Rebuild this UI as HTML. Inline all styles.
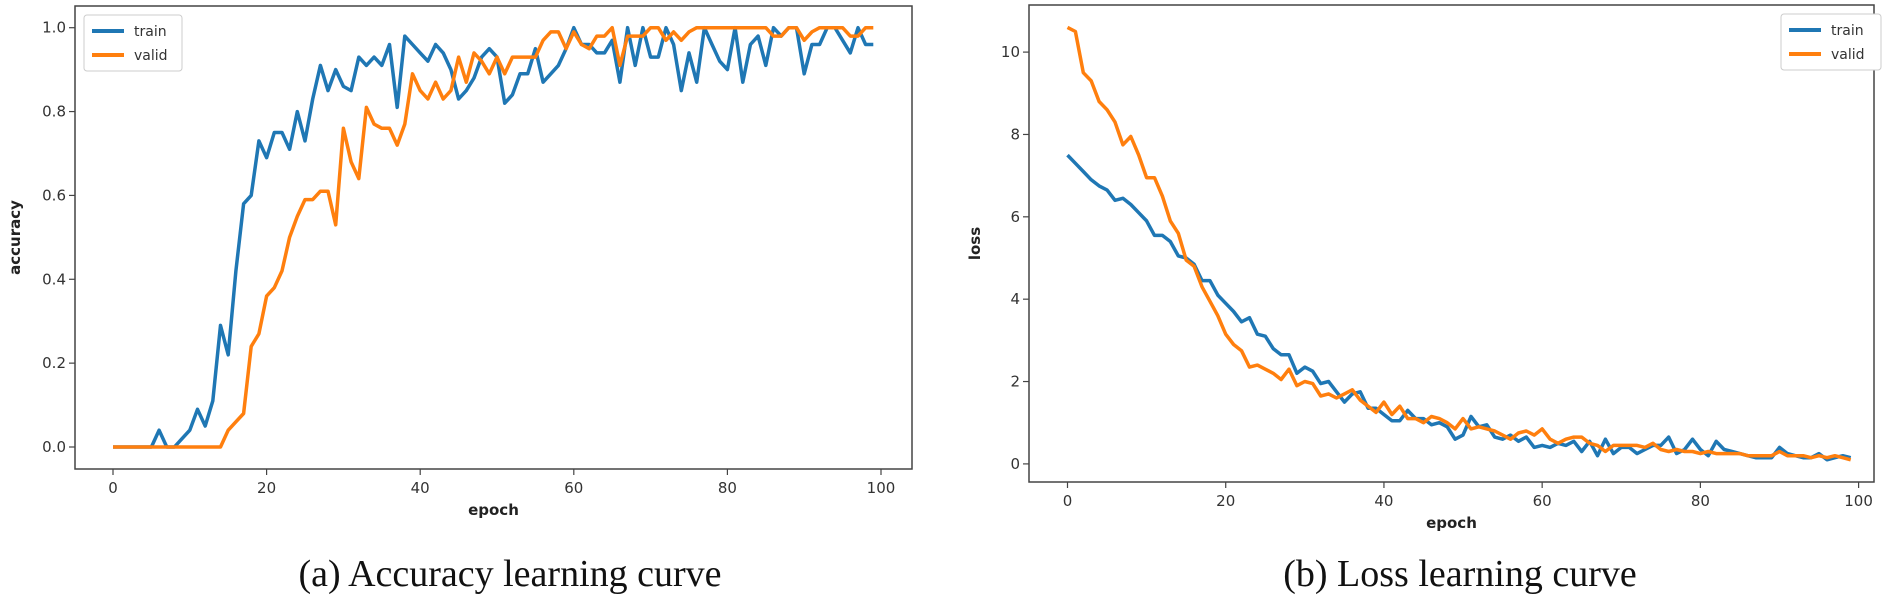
<!DOCTYPE html>
<html><head><meta charset="utf-8"><style>
body{margin:0;background:#fff;width:1900px;height:597px;overflow:hidden}
svg{display:block}
</style></head><body>
<svg id="s" width="1900" height="597" xmlns="http://www.w3.org/2000/svg" font-family="'DejaVu Sans','Liberation Sans',sans-serif"></svg>
<script>
const epochs = Array.from({length:100},(_,i)=>i);
const accTrain=[0,0,0,0,0,0,0.04,0,0,0.02,0.04,0.09,0.05,0.11,0.29,0.22,0.42,0.58,0.6,0.73,0.69,0.75,0.75,0.71,0.8,0.73,0.83,0.91,0.85,0.9,0.86,0.85,0.93,0.91,0.93,0.91,0.96,0.81,0.98,0.96,0.94,0.92,0.96,0.94,0.9,0.83,0.85,0.88,0.93,0.95,0.93,0.82,0.84,0.89,0.89,0.95,0.87,0.89,0.91,0.95,1.0,0.96,0.96,0.94,0.94,0.97,0.87,1.0,0.91,1.0,0.93,0.93,1.0,0.96,0.85,0.94,0.87,1.0,0.96,0.92,0.9,1.0,0.87,0.96,0.98,0.91,1.0,0.98,1.0,1.0,0.89,0.96,0.96,1.0,1.0,0.97,0.94,1.0,0.96,0.96];
const accValid=[0,0,0,0,0,0,0,0,0,0,0,0,0,0,0,0.04,0.06,0.08,0.24,0.27,0.36,0.38,0.42,0.5,0.55,0.59,0.59,0.61,0.61,0.53,0.76,0.68,0.64,0.81,0.77,0.76,0.76,0.72,0.77,0.89,0.85,0.83,0.87,0.83,0.85,0.93,0.87,0.94,0.92,0.89,0.93,0.89,0.93,0.93,0.93,0.93,0.97,0.99,0.99,0.95,0.99,0.96,0.95,0.98,0.98,1.0,0.91,0.98,0.98,0.98,1.0,1.0,0.97,0.99,0.97,0.99,1.0,1.0,1.0,1.0,1.0,1.0,1.0,1.0,1.0,1.0,0.98,0.98,1.0,1.0,0.97,0.99,1.0,1.0,1.0,1.0,0.98,0.98,1.0,1.0];
const lossTrain=[7.5,7.3,7.1,6.9,6.75,6.65,6.4,6.45,6.3,6.1,5.9,5.55,5.55,5.4,5.05,5.0,4.85,4.45,4.45,4.1,3.9,3.7,3.45,3.55,3.15,3.1,2.8,2.65,2.65,2.2,2.35,2.25,1.95,2.0,1.75,1.5,1.7,1.75,1.35,1.35,1.2,1.05,1.05,1.3,1.1,1.1,0.95,1.0,0.9,0.6,0.7,1.15,0.9,0.95,0.65,0.6,0.7,0.55,0.65,0.4,0.45,0.4,0.5,0.45,0.55,0.3,0.55,0.2,0.6,0.25,0.4,0.4,0.25,0.35,0.45,0.45,0.65,0.25,0.35,0.6,0.35,0.2,0.55,0.35,0.3,0.25,0.2,0.15,0.15,0.15,0.4,0.25,0.2,0.15,0.15,0.25,0.1,0.15,0.2,0.15];
const lossValid=[10.6,10.5,9.5,9.3,8.8,8.6,8.3,7.75,7.95,7.5,6.95,6.95,6.5,5.9,5.6,4.95,4.8,4.3,3.95,3.6,3.15,2.9,2.75,2.35,2.4,2.3,2.2,2.05,2.3,1.9,2.0,1.95,1.65,1.7,1.6,1.7,1.8,1.55,1.4,1.25,1.5,1.2,1.4,1.1,1.1,1.0,1.15,1.1,1.0,0.85,1.1,0.85,0.9,0.85,0.8,0.7,0.6,0.75,0.8,0.7,0.85,0.6,0.5,0.6,0.65,0.65,0.5,0.45,0.3,0.45,0.45,0.45,0.45,0.4,0.5,0.35,0.3,0.35,0.3,0.3,0.25,0.3,0.25,0.25,0.25,0.25,0.2,0.2,0.2,0.2,0.3,0.2,0.2,0.2,0.15,0.2,0.15,0.2,0.15,0.1];
const xTicks=[0,20,40,60,80,100];
const accTicks=[0,0.2,0.4,0.6,0.8,1.0];
const lossTicks=[0,2,4,6,8,10];

const NS='http://www.w3.org/2000/svg';
const svg=document.getElementById('s');
function mk(tag,attrs,parent,text){const e=document.createElementNS(NS,tag);for(const k in attrs)e.setAttribute(k,attrs[k]);if(text!==undefined)e.textContent=text;(parent||svg).appendChild(e);return e;}

function chart(o){
  const g=mk('g',{});
  
  
  const sx=v=>o.x0px+(v-0)*(o.x100px-o.x0px)/100;
  const sy=v=>o.ya+(v-o.va)*(o.yb-o.ya)/(o.vb-o.va);
  const box=mk('rect',{x:o.L,y:o.T,width:o.R-o.L,height:o.B-o.T,fill:'none',stroke:'#444','stroke-width':1.5},g);
  
  
  xTicks.forEach(t=>{
    mk('line',{x1:sx(t),x2:sx(t),y1:o.B,y2:o.B+6,stroke:'#444','stroke-width':1.2},g);
    const tx=mk('text',{x:sx(t),y:o.B+24,'text-anchor':'middle','font-size':15,fill:'#333'},g,String(t));
    
    
  });
  o.yTicks.forEach(t=>{
    mk('line',{x1:o.L-6,x2:o.L,y1:sy(t),y2:sy(t),stroke:'#444','stroke-width':1.2},g);
    const tx=mk('text',{x:o.L-9,y:sy(t)+5,'text-anchor':'end','font-size':15,fill:'#333'},g,o.fmt(t));
    
    
  });
  const xl=mk('text',{x:(o.L+o.R)/2,y:o.xlabY,'text-anchor':'middle','font-size':15,'font-weight':'bold',fill:'#222'},g,'epoch');
  
  
  const yl=mk('text',{x:0,y:0,transform:`translate(${o.ylabX},${(o.T+o.B)/2}) rotate(-90)`,'text-anchor':'middle','font-size':15,'font-weight':'bold',fill:'#222'},g,o.ylabel);
  
  
  [[o.train,'#1f77b4','train'],[o.valid,'#ff7f0e','valid']].forEach(([d,c,n])=>{
    const pts=d.map((v,i)=>sx(epochs[i]).toFixed(1)+','+sy(v).toFixed(1)).join(' ');
    const pl=mk('polyline',{points:pts,fill:'none',stroke:c,'stroke-width':3.5,'stroke-linejoin':'round'},g);
    
    
  });
  const lg=mk('g',{},g);
  
  
  mk('rect',{x:o.legX,y:o.legY,width:o.legW,height:56,rx:3,fill:'#fff',stroke:'#ccc'},lg);
  [['#1f77b4','train'],['#ff7f0e','valid']].forEach(([c,n],i)=>{
    const y=o.legY+16+i*24;
    mk('line',{x1:o.legX+8,x2:o.legX+40,y1:y,y2:y,stroke:c,'stroke-width':4},lg);
    const t=mk('text',{x:o.legX+50,y:y+5,'font-size':14,fill:'#333'},lg,n);
    
    
  });
  const cap=mk('text',{x:o.capX,y:586,'text-anchor':'middle','font-size':38,'font-family':"'Liberation Serif',serif",fill:'#111'},g,o.caption);
  
  
}
chart({name:'accuracy-chart',L:75,R:912,T:6,B:469,x0px:113,x100px:881,ya:447,va:0,yb:27.7,vb:1,
  yTicks:accTicks,fmt:t=>t.toFixed(1),ylabel:'accuracy',ylabX:20,xlabY:515,
  train:accTrain,valid:accValid,legX:84,legY:15,legW:98,caption:'(a) Accuracy learning curve',capX:510});
chart({name:'loss-chart',L:1029,R:1874,T:5,B:482,x0px:1067.5,x100px:1858.6,ya:463.9,va:0,yb:52.1,vb:10,
  yTicks:lossTicks,fmt:t=>String(t),ylabel:'loss',ylabX:980,xlabY:528,
  train:lossTrain,valid:lossValid,legX:1781,legY:14,legW:100,caption:'(b) Loss learning curve',capX:1460});
</script>
</body></html>
